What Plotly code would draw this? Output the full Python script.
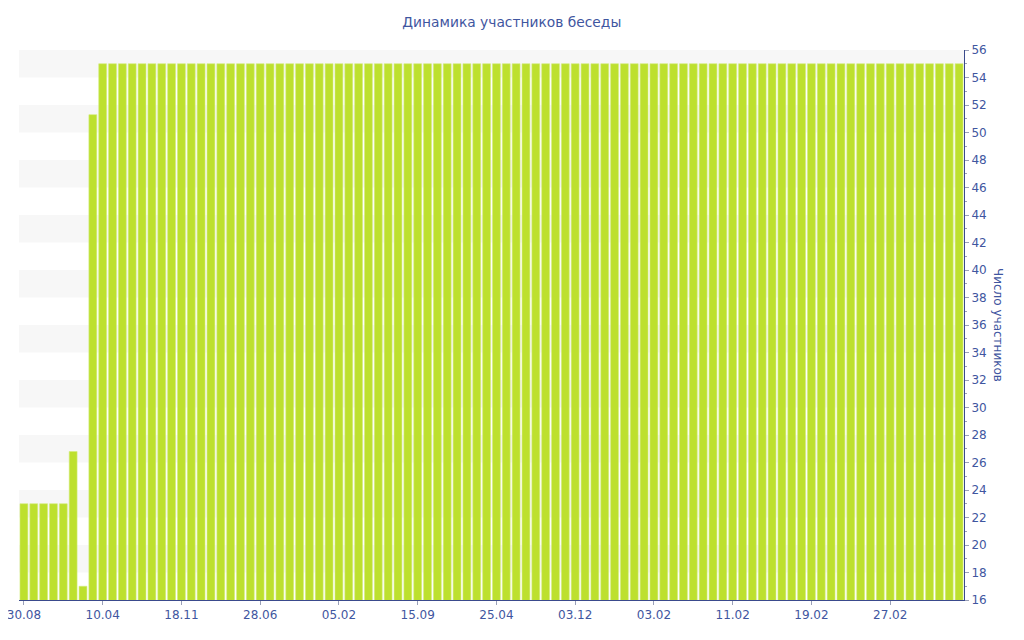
import plotly.graph_objects as go

# Data
tick_labels = ["30.08", "10.04", "18.11", "28.06", "05.02", "15.09",
               "25.04", "03.12", "03.02", "11.02", "19.02", "27.02"]
tick_step = 8
n_bars = 96
values = [23, 23, 23, 23, 23, 26.8, 17, 51.3] + [55] * (n_bars - 8)

x_idx = list(range(n_bars))
tick_positions = [i * tick_step for i in range(len(tick_labels))]

y_min, y_max = 16, 56
text_color = "#3f56a0"
axis_color = "#3a4a8c"

fig = go.Figure()
fig.add_trace(go.Bar(
    x=x_idx, y=values,
    marker=dict(color="#bde02e", line=dict(color="#d4ec7c", width=0.6)),
    hoverinfo="y",
))

# alternating bands
shapes = []
v = y_min + 2
while v < y_max:
    shapes.append(dict(type="rect", xref="paper", yref="y", x0=0, x1=1,
                       y0=v, y1=v + 2, fillcolor="#f7f7f7", line=dict(width=0),
                       layer="below"))
    v += 4

fig.update_layout(
    width=1024, height=640,
    margin=dict(l=11, r=68, t=42, b=48, autoexpand=False),
    paper_bgcolor="white", plot_bgcolor="white",
    font=dict(family="DejaVu Sans", size=12, color=text_color),
    title=dict(text="Динамика участников беседы", x=0.492, xanchor="center",
               yref="container", y=0.978, yanchor="middle",
               font=dict(family="DejaVu Sans", size=13.8, color=text_color)),
    bargap=0.2,
    shapes=shapes,
    showlegend=False,
    xaxis=dict(range=[-0.5, n_bars - 0.5], tickmode="array",
               tickvals=tick_positions, ticktext=tick_labels,
               showline=True, linecolor=axis_color, linewidth=1,
               ticks="outside", ticklen=4, tickcolor="#9aa0b8",
               showgrid=False, zeroline=False, automargin=False,
               ticklabeloverflow="allow",
               tickfont=dict(size=12, color=text_color)),
    yaxis=dict(range=[y_min, y_max], side="right", dtick=2, tick0=16,
               showline=True, linecolor=axis_color, linewidth=1,
               ticks="outside", ticklen=4, tickcolor="#9aa0b8",
               minor=dict(dtick=1, ticks="outside", ticklen=2, tickcolor="#9aa0b8"),
               showgrid=False, zeroline=False, automargin=False,
               ticklabeloverflow="allow",
               tickfont=dict(size=12, color=text_color)),
    annotations=[dict(text="Число участников", xref="paper", yref="paper",
                      x=1.0, xanchor="center", xshift=34, y=0.5, yanchor="middle",
                      showarrow=False, textangle=90,
                      font=dict(family="DejaVu Sans", size=12, color=text_color))],
)

fig.write_html("out.html")
